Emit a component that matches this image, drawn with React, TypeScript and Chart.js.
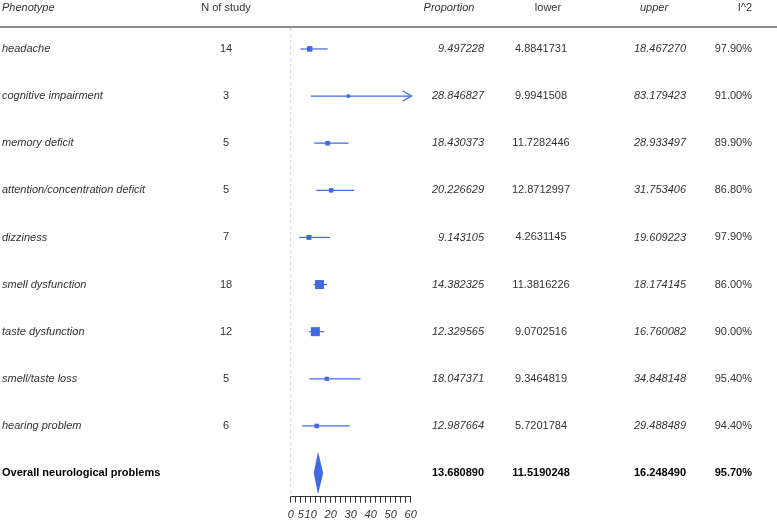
import React, { useEffect, useRef } from "react";
import { Chart, registerables } from "chart.js";

Chart.register(...registerables);

// ---- data ----
const phenotypes = [
  "headache",
  "cognitive impairment",
  "memory deficit",
  "attention/concentration deficit",
  "dizziness",
  "smell dysfunction",
  "taste dysfunction",
  "smell/taste loss",
  "hearing problem",
];
const nStudy = [14, 3, 5, 5, 7, 18, 12, 5, 6];
const proportion = [9.497228, 28.846827, 18.430373, 20.226629, 9.143105, 14.382325, 12.329565, 18.047371, 12.987664];
const lower = [4.8841731, 9.9941508, 11.7282446, 12.8712997, 4.2631145, 11.3816226, 9.0702516, 9.3464819, 5.7201784];
const upper = [18.46727, 83.179423, 28.933497, 31.753406, 19.609223, 18.174145, 16.760082, 34.848148, 29.488489];
const i2 = [97.9, 91.0, 89.9, 86.8, 97.9, 86.0, 90.0, 95.4, 94.4];
// relative study weights (box size)
const weights = [5.5, 3.4, 4.6, 4.5, 5.0, 9.0, 9.0, 4.2, 4.5];

const overallLabel = "Overall neurological problems";
const overallProp = 13.68089;
const overallLower = 11.5190248;
const overallUpper = 16.24849;
const overallI2 = 95.7;

const headers = ["Phenotype", "N of study", "Proportion", "lower", "upper", "I^2"];
const xTickValues = [0, 5, 10, 20, 30, 40, 50, 60];
const xMin = 0;
const xMax = 60;
const xMinorStep = 2.5;

const BLUE = "#4169E1";
const FONT = "'Liberation Sans', Arial, Helvetica, sans-serif";

export default function App() {
  const ref = useRef<HTMLCanvasElement | null>(null);

  useEffect(() => {
    document.body.style.margin = "0";
    const canvas = ref.current;
    if (!canvas) return;
    const overallRow = phenotypes.length;

    const ciSets: any[] = phenotypes.map((_, i) => ({
      type: "line",
      data: [
        { x: lower[i], y: i },
        { x: Math.min(upper[i], xMax), y: i },
      ],
      borderColor: BLUE,
      borderWidth: 1.2,
      pointRadius: 0,
      showLine: true,
      fill: false,
      clip: false,
    }));

    const boxSet: any = {
      type: "line",
      data: proportion.map((p, i) => ({ x: p, y: i })),
      showLine: false,
      pointStyle: "rect",
      pointRadius: weights.map((w) => w / Math.SQRT2),
      backgroundColor: BLUE,
      borderColor: BLUE,
      borderWidth: 0,
      clip: false,
    };

    const dTop: any = {
      type: "line",
      data: [
        { x: overallLower, y: overallRow },
        { x: overallProp, y: overallRow - 0.45 },
        { x: overallUpper, y: overallRow },
      ],
      borderColor: "rgba(0,0,0,0)",
      borderWidth: 0,
      pointRadius: 0,
      fill: false,
      tension: 0,
    };
    const dBottom: any = {
      type: "line",
      data: [
        { x: overallLower, y: overallRow },
        { x: overallProp, y: overallRow + 0.45 },
        { x: overallUpper, y: overallRow },
      ],
      borderColor: "rgba(0,0,0,0)",
      backgroundColor: BLUE,
      borderWidth: 0,
      pointRadius: 0,
      fill: "-1",
      tension: 0,
    };

    const decor = {
      id: "forestDecor",
      beforeDatasetsDraw(chart: any) {
        const c = chart.ctx;
        const xs = chart.scales.x;
        const area = chart.chartArea;
        // header rule
        c.save();
        c.strokeStyle = "#666";
        c.lineWidth = 1.3;
        c.beginPath();
        c.moveTo(0, 27);
        c.lineTo(chart.width, 27);
        c.stroke();
        // zero line
        const x0 = xs.getPixelForValue(0);
        c.strokeStyle = "#c9c9ef";
        c.lineWidth = 1;
        c.setLineDash([3, 3]);
        c.beginPath();
        c.moveTo(x0, 28);
        c.lineTo(x0, area.bottom);
        c.stroke();
        c.restore();
      },
      afterDraw(chart: any) {
        const c = chart.ctx;
        const xs = chart.scales.x;
        const ys = chart.scales.y;
        c.save();
        // arrows for clipped CI
        c.strokeStyle = BLUE;
        c.lineWidth = 1.2;
        upper.forEach((u, i) => {
          if (u > xMax) {
            const tx = xs.getPixelForValue(xMax) + 1;
            const ty = ys.getPixelForValue(i);
            c.beginPath();
            c.moveTo(tx - 9, ty - 5);
            c.lineTo(tx, ty);
            c.lineTo(tx - 9, ty + 5);
            c.stroke();
          }
        });
        // table text
        c.textBaseline = "middle";
        const txt = (s: string, x: number, y: number, align: string, style: string, color = "#333") => {
          c.font = `${style} 11px ${FONT}`;
          c.fillStyle = color;
          c.textAlign = align;
          c.fillText(s, x, y);
        };
        const hy = 8;
        txt(headers[0], 2, hy, "left", "italic");
        txt(headers[1], 226, hy, "center", "normal");
        txt(headers[2], 449, hy, "center", "italic");
        txt(headers[3], 548, hy, "center", "normal");
        txt(headers[4], 654, hy, "center", "italic");
        txt(headers[5], 752, hy, "right", "normal");
        phenotypes.forEach((p, i) => {
          const y = ys.getPixelForValue(i);
          txt(p, 2, y, "left", "italic");
          txt(String(nStudy[i]), 226, y, "center", "normal");
          txt(proportion[i].toFixed(6), 484, y, "right", "italic");
          txt(lower[i].toFixed(7), 541, y, "center", "normal");
          txt(upper[i].toFixed(6), 686, y, "right", "italic");
          txt(i2[i].toFixed(2) + "%", 752, y, "right", "normal");
        });
        const oy = ys.getPixelForValue(overallRow);
        txt(overallLabel, 2, oy, "left", "bold", "#000");
        txt(overallProp.toFixed(6), 484, oy, "right", "bold", "#000");
        txt(overallLower.toFixed(7), 541, oy, "center", "bold", "#000");
        txt(overallUpper.toFixed(6), 686, oy, "right", "bold", "#000");
        txt(overallI2.toFixed(2) + "%", 752, oy, "right", "bold", "#000");
        c.restore();
      },
    };

    const chart = new Chart(canvas, {
      type: "line",
      data: { datasets: [...ciSets, boxSet, dTop, dBottom] },
      options: {
        animation: false,
        responsive: false,
        devicePixelRatio: 1,
        layout: { padding: { left: 290.7, right: 777 - 410.7, top: 25.4, bottom: 0 } },
        plugins: { legend: { display: false }, tooltip: { enabled: false } },
        events: [],
        scales: {
          x: {
            type: "linear",
            min: xMin,
            max: xMax,
            afterBuildTicks: (scale: any) => {
              const t: any[] = [];
              for (let v = xMin; v <= xMax + 1e-9; v += xMinorStep) t.push({ value: v });
              scale.ticks = t;
            },
            afterFit: (scale: any) => {
              scale.height = 23.4;
            },
            grid: { drawOnChartArea: false, drawTicks: true, tickLength: 6, color: "#333", lineWidth: 1 },
            border: { display: true, color: "#333", width: 1 },
            ticks: {
              autoSkip: false,
              maxRotation: 0,
              padding: 6,
              color: "#333",
              font: { family: FONT, size: 11, style: "italic" },
              callback: (v: any) => (xTickValues.includes(Number(v)) ? String(v) : ""),
            },
          },
          y: {
            type: "linear",
            min: -0.5,
            max: phenotypes.length + 0.5,
            reverse: true,
            display: false,
          },
        },
      } as any,
      plugins: [decor],
    });
    return () => chart.destroy();
  }, []);

  return (
    <div style={{ width: 777, height: 520, background: "#fff" }}>
      <canvas ref={ref} width={777} height={520} style={{ display: "block" }} />
    </div>
  );
}
